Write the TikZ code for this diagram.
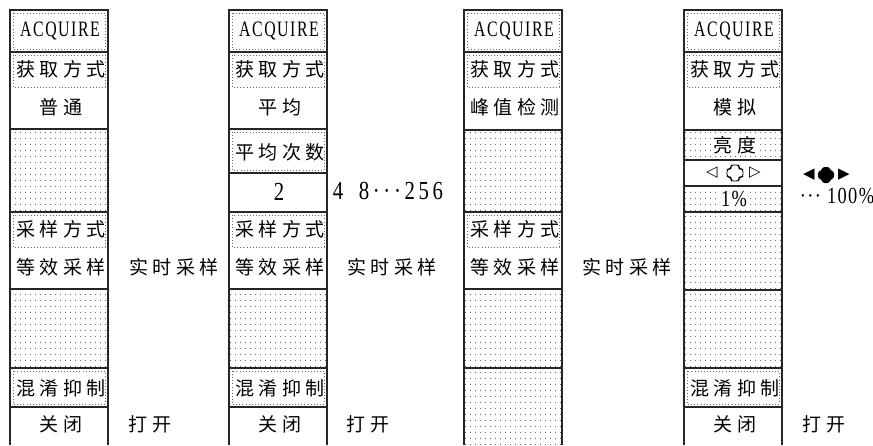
\documentclass[tikz,border=0pt]{standalone}
\usepackage{fontspec}
\usetikzlibrary{patterns}
\newfontfamily\cjkfont[LetterSpace=24]{Noto Sans CJK SC}
\newfontfamily\latfont[FakeStretch=0.72,LetterSpace=7]{Liberation Serif}
\newfontfamily\numfont[FakeStretch=0.8,LetterSpace=6]{Liberation Serif}
\newfontfamily\widenumfont[FakeStretch=0.8,LetterSpace=14]{Liberation Serif}
\newfontfamily\symfont{DejaVu Sans}
\pgfdeclarepatternformonly{mydots}{\pgfpoint{-1pt}{-1pt}}{\pgfpoint{6pt}{7pt}}{\pgfpoint{5pt}{6pt}}{\pgfpathrectangle{\pgfpoint{0pt}{0pt}}{\pgfpoint{0.9pt}{0.9pt}}\pgfusepath{fill}}
\tikzset{
  frame/.style={draw=black!85, line width=1.1pt},
  thickframe/.style={draw=black!85, line width=1.8pt},
  dotbox/.style={draw=black!60, line width=0.7pt, dash pattern=on 0.7pt off 2.4pt},
  dotfill/.style={pattern=mydots, pattern color=black!60},
  cjk/.style={font=\cjkfont\fontsize{19}{19}\selectfont, inner sep=0pt},
  lat/.style={font=\latfont\fontsize{22}{22}\selectfont, inner sep=0pt},
  num/.style={font=\numfont\fontsize{26}{26}\selectfont, inner sep=0pt},
  widenum/.style={font=\widenumfont\fontsize{26}{26}\selectfont, inner sep=0pt},
  pct/.style={font=\numfont\fontsize{23}{23}\selectfont, inner sep=0pt},
  sym/.style={font=\symfont\fontsize{15}{15}\selectfont, inner sep=0pt},
  whitebg/.style={fill=white, inner sep=2pt},
  knob/.style={rounded corners=2.6pt, line width=0.9pt}
}
\begin{document}
\begin{tikzpicture}[x=1pt,y=-1pt]
\useasboundingbox (0,0) rectangle (873,445);
\fill[white] (0,0) rectangle (873,445);

% ---------- column 1 ----------
\begin{scope}[xshift=10pt]
  \path[dotfill] (0,129) rectangle (98,212);
  \path[dotfill] (0,289) rectangle (98,368);
  \draw[dotbox] (3,13) rectangle (95,49);
  \draw[dotbox] (3,55) rectangle (95,87);
  \draw[dotbox] (3,215) rectangle (95,247);
  \draw[dotbox] (3,371) rectangle (95,404);
  \draw[frame] (0,445) -- (0,10) -- (98,10) -- (98,445);
  \foreach \yy in {52,129,212,289,368,407} \draw[frame] (0,\yy) -- (98,\yy);
  \node[lat] (a1) at (50,31) {ACQUIRE};
  \node[cjk] (b1) at (51,69) {获取方式};
  \node[cjk] (c1) at (51,107) {普通};
  \node[cjk] (d1) at (51,229) {采样方式};
  \node[cjk] (e1) at (51,267) {等效采样};
  \node[cjk] (f1) at (51,388) {混淆抑制};
  \node[cjk] (g1) at (51,424) {关闭};
\end{scope}
\node[cjk] (r1a) at (174,267) {实时采样};
\node[cjk] (r1b) at (150,424) {打开};

% ---------- column 2 ----------
\begin{scope}[xshift=229pt]
  \path[dotfill] (0,289) rectangle (98,368);
  \draw[dotbox] (3,13) rectangle (95,49);
  \draw[dotbox] (3,55) rectangle (95,87);
  \draw[dotbox] (3,132) rectangle (95,170);
  \draw[dotbox] (3,215) rectangle (95,247);
  \draw[dotbox] (3,371) rectangle (95,404);
  \draw[frame] (0,445) -- (0,10) -- (98,10) -- (98,445);
  \foreach \yy in {52,129,173,212,289,368,407} \draw[frame] (0,\yy) -- (98,\yy);
  \node[lat] (a2) at (50,31) {ACQUIRE};
  \node[cjk] (b2) at (51,69) {获取方式};
  \node[cjk] (c2) at (51,107) {平均};
  \node[cjk] (h2) at (51,152) {平均次数};
  \node[num] (i2) at (50,192) {2};
  \node[cjk] (d2) at (51,229) {采样方式};
  \node[cjk] (e2) at (51,267) {等效采样};
  \node[cjk] (f2) at (51,388) {混淆抑制};
  \node[cjk] (g2) at (51,424) {关闭};
\end{scope}
\node[num] (r2n4) at (338,191) {4};
\node[widenum] (r2n) at (401,191) {8···256};
\node[cjk] (r2a) at (392,267) {实时采样};
\node[cjk] (r2b) at (368,424) {打开};

% ---------- column 3 ----------
\begin{scope}[xshift=464pt]
  \path[dotfill] (0,130) rectangle (98,212);
  \path[dotfill] (0,289) rectangle (98,445);
  \draw[dotbox] (3,13) rectangle (95,49);
  \draw[dotbox] (3,55) rectangle (95,87);
  \draw[dotbox] (3,215) rectangle (95,247);
  \draw[frame] (0,445) -- (0,10) -- (98,10) -- (98,445);
  \foreach \yy in {52,130,212,289,368} \draw[frame] (0,\yy) -- (98,\yy);
  \node[lat] (a3) at (50,31) {ACQUIRE};
  \node[cjk] (b3) at (51,69) {获取方式};
  \node[cjk] (c3) at (51,107) {峰值检测};
  \node[cjk] (d3) at (51,229) {采样方式};
  \node[cjk] (e3) at (51,267) {等效采样};
\end{scope}
\node[cjk] (r3a) at (627,267) {实时采样};

% ---------- column 4 ----------
\begin{scope}[xshift=684pt]
  \path[dotfill] (0,130) rectangle (98,160);
  \path[dotfill] (0,186) rectangle (98,368);
  \draw[dotbox] (3,13) rectangle (95,49);
  \draw[dotbox] (3,55) rectangle (95,87);
  \draw[dotbox] (3,371) rectangle (95,404);
  \draw[frame] (0,445) -- (0,10) -- (98,10) -- (98,445);
  \foreach \yy in {52,130,212,290,368,407} \draw[frame] (0,\yy) -- (98,\yy);
  \draw[thickframe] (0,160) -- (98,160);
  \draw[thickframe] (0,186) -- (98,186);
  \node[lat] (a4) at (50,31) {ACQUIRE};
  \node[cjk] (b4) at (51,69) {获取方式};
  \node[cjk] (c4) at (51,107) {模拟};
  \node[cjk, whitebg] (k4) at (51,145) {亮度};
  \node[sym] (tl4) at (28,173) {◁};
  \node[inner sep=0pt, minimum size=16pt] (kn4) at (51,173) {};
  \node[sym] (tr4) at (71,173) {▷};
  \node[pct, whitebg, inner sep=1pt] (p4) at (50,199) {1\%};
  \node[cjk] (f4) at (51,388) {混淆抑制};
  \node[cjk] (g4) at (51,424) {关闭};
\end{scope}
\draw[knob, shift={(kn4.center)}] (-4,-8) -- (4,-8) -- (4,-4) -- (8,-4) -- (8,4) -- (4,4) -- (4,8) -- (-4,8) -- (-4,4) -- (-8,4) -- (-8,-4) -- (-4,-4) -- cycle;
\node[sym] (tl5) at (809,175) {◀};
\node[inner sep=0pt, minimum size=16pt] (kn5) at (826,175) {};
\node[sym] (tr5) at (844,175) {▶};
\fill[knob, shift={(kn5.center)}] (-4,-8) -- (4,-8) -- (4,-4) -- (8,-4) -- (8,4) -- (4,4) -- (4,8) -- (-4,8) -- (-4,4) -- (-8,4) -- (-8,-4) -- (-4,-4) -- cycle;
\node[pct] (r4n) at (837,196) {··· 100\%};
\node[cjk] (r4b) at (824,424) {打开};
\end{tikzpicture}
\end{document}
